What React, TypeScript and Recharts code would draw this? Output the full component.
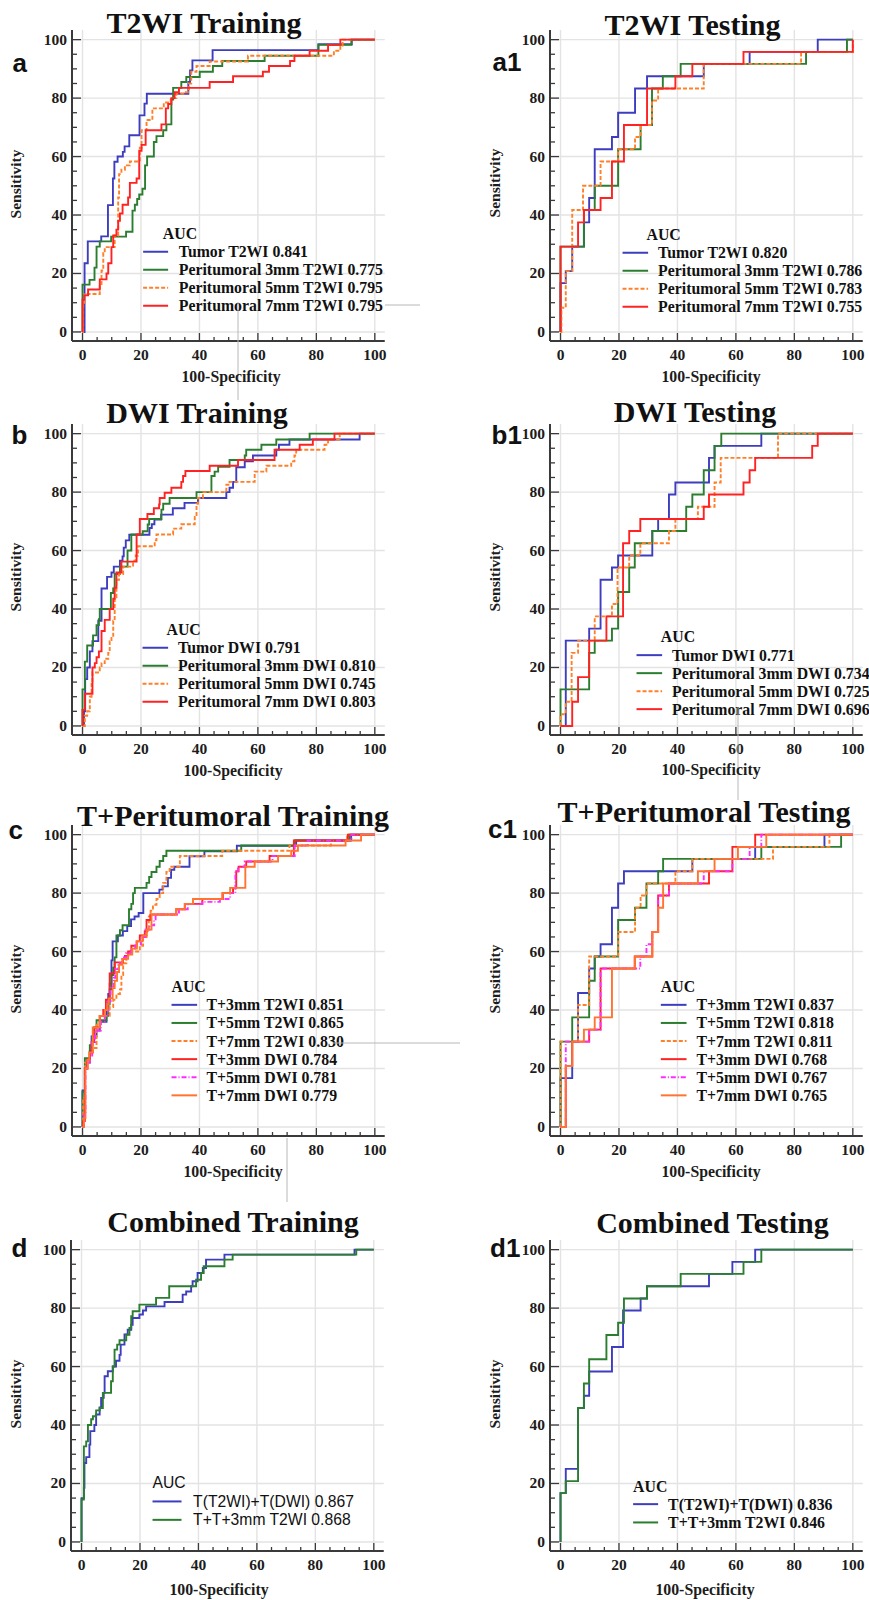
import React from 'react';
import { LineChart, Line, XAxis, YAxis, ReferenceLine, Legend } from 'recharts';

// ROC vertices: [100-Specificity, Sensitivity] where the step happens
const aTumor = [[0,0],[0.7,23.5],[1.8,31],[6.4,32.7],[8.7,43.4],[10.4,52.5],[10.9,58.2],[12,60],[13.8,61.6],[14.4,63.5],[16,67.3],[19.5,74.1],[21.2,78.1],[22,81.5],[36.2,85.5],[36.8,89.5],[37.6,92.9],[44.5,96.4],[80.7,98.4],[92.1,100],[100,100]];
const aPeri3 = [[0,0],[0,16.2],[2.4,17.8],[4.1,22],[4.8,29.2],[5.9,31],[9.8,32.6],[14.9,34.3],[17.1,41.5],[17.9,43.5],[18.7,45.5],[19.4,47],[20.5,49],[21.4,57],[22.1,60],[24.4,65],[25.3,67],[27.6,69],[28.7,71],[30.4,79.5],[31,83.5],[33.8,85.5],[35.5,87.2],[40.1,89],[44.6,91],[47.8,92.7],[62.3,94.5],[80.7,98.2],[92,100],[100,100]];
const aPeri5 = [[0,0],[0.2,9],[0.6,13],[5.9,16],[6.5,21],[7.1,27],[7.6,29],[11,33],[12.2,46],[12.5,54],[13.3,55.5],[14.5,57],[16.2,58.3],[19.6,63],[20.2,69],[21.9,72.5],[23.9,76.5],[27.8,78.5],[30.2,80],[32.1,81.5],[35,82],[36.4,85],[37.2,89],[39,91],[43.5,92.5],[56.6,94.5],[86,96.2],[88.2,98],[89,100],[100,100]];
const aPeri7 = [[0,0],[0,11],[0.6,12.5],[1.9,14.5],[5.9,18],[8.2,20],[8.8,23.5],[9.9,29],[10.5,33],[11.6,35],[12.2,38],[12.8,40.5],[13.7,43.5],[15.6,46],[16.2,51],[18.5,52.5],[19.4,62],[20.2,64],[21.6,69],[27,71],[28.5,76.5],[29.3,78],[30.4,80],[31.5,82],[33,83.5],[43.5,85.5],[51.5,87.5],[61.7,89],[63.8,91],[71,92.7],[72.5,94.5],[77.7,96.2],[84,98.2],[88.2,100],[100,100]];

const a1Tumor = [[0,0],[0,16.7],[1.8,20.8],[4,29.2],[8,37.5],[9.8,45.8],[11.7,62.5],[17.6,66.7],[19.7,75],[25.5,83.3],[29.6,87.5],[49,91.7],[64.7,95.8],[88,100],[100,100]];
const a1Peri3 = [[0,0],[0,29.2],[8,41.7],[11.7,50],[19.7,62.5],[27.4,70.8],[31.3,83.3],[35,87.5],[41.1,91.7],[84,95.8],[98,100],[100,100]];
const a1Peri5 = [[0,0],[0.3,8.3],[1.8,20.8],[4,41.7],[7.7,50],[13.7,58.3],[19.7,62.5],[25.5,66.7],[27.4,70.8],[31.3,79.2],[33.4,83.3],[49,91.7],[82.3,95.8],[100,100]];
const a1Peri7 = [[0,0],[0,29.2],[6,37.5],[8,41.7],[13.7,45.8],[17.6,58.3],[21.7,70.8],[29.6,83.3],[39.3,87.5],[45.1,91.7],[62.6,95.8],[100,100]];

const bTumor = [[0,0],[0.5,5],[0.9,16],[1.6,20],[2.5,25.5],[3.4,29],[5.4,36],[6.5,47],[8.4,51],[9.9,52.5],[10.7,54.5],[12.8,56.5],[13.7,58],[14.1,61],[14.8,63.5],[16,65.4],[22.9,67.7],[23.7,69],[24.6,70.6],[26.9,72.3],[30.9,74.5],[34.9,76.3],[39.5,78],[49.2,80],[50.3,81.5],[51.5,83.5],[52.6,88.5],[55.5,90.5],[58.3,92.5],[66.3,94.5],[67.2,96.2],[70.8,98],[94.8,100],[100,100]];
const bPeri3 = [[0,0],[0,12.5],[0.8,22],[1.6,27.5],[3.6,31],[4.8,34.5],[5.6,36.5],[5.9,40],[9.7,45.5],[10.5,47],[11,52],[12.8,54.5],[15.4,60],[16.7,65.5],[20.6,66.6],[22.3,68.9],[22.8,70.8],[27,74],[27.6,76],[29.8,78],[39,80],[44.1,85.5],[45.2,87],[46.4,88.7],[50.3,91],[55.5,92.5],[56,94.5],[61.2,96.2],[66.3,98],[77.7,100],[100,100]];
const bPeri5 = [[0,0],[0.8,3.5],[1.6,5],[2.5,10],[3.1,15],[3.4,18.3],[5.9,20],[6.5,21.5],[7.6,23],[8.8,25],[9.3,29],[9.9,30.5],[10.5,36],[11,44],[11.6,50],[12.5,52],[13.9,54.5],[17.3,56.5],[18.2,58.3],[19,61.5],[24.7,63.5],[25.3,65.5],[31,67.5],[33.8,69],[38.4,71.5],[39,76],[39.5,78],[41.2,80],[49.2,82.5],[50.3,83.5],[58.9,87],[62.9,89],[71.4,90.5],[72.5,92.5],[73.1,94.5],[82.8,96.2],[84,98],[88,100],[100,100]];
const bPeri7 = [[0,0],[0,5.5],[0.8,11],[3.4,20],[4.2,21.5],[4.8,23.5],[5.6,25.5],[6.5,32.5],[7.6,36.3],[9.3,40],[10.5,43.5],[11,47.3],[11.6,52.5],[13.3,56.2],[18.5,65.5],[19.6,70.8],[22.2,72.5],[24.4,74.5],[26.2,75.8],[26.4,78],[28.1,79.8],[30.4,81.5],[33.8,83.5],[34.4,85.5],[35.2,87.2],[43.5,89],[53.2,91],[65.7,94.5],[74.3,96.2],[78.8,98],[86.2,100],[100,100]];

const b1Tumor = [[0,0],[1.8,0],[1.8,29.2],[9.8,33.3],[13.7,50],[17.6,54.2],[19.7,58.3],[31.4,66.7],[33.4,70.8],[37.1,79.2],[39.3,83.3],[50.8,91.7],[52.7,95.8],[68.7,100],[100,100]];
const b1Peri3 = [[0,0],[0,12.5],[9.8,25],[11.7,29.2],[17.6,33.3],[19.7,45.8],[23.5,54.2],[25.4,62.5],[31.4,66.7],[43,75],[45.1,79.2],[49,87.5],[52.7,95.8],[55,100],[100,100]];
const b1Peri5 = [[0,0],[0,4],[1.8,8.3],[3.8,25],[6,29.2],[11.7,37.5],[17.6,41.7],[19.5,54.2],[23.5,58.3],[27.3,62.5],[37.1,66.7],[39.3,70.8],[47,75],[52.7,83.3],[54.8,91.7],[74.4,100],[100,100]];
const b1Peri7 = [[0,0],[4,8.3],[6,16.7],[9.8,29.2],[15.7,37.5],[21.4,62.5],[23.5,66.7],[27.3,70.8],[49,75],[50.8,79.2],[62.6,83.3],[64.7,87.5],[66.6,91.7],[86.1,95.8],[88,100],[100,100]];

const cT3T2 = [[0,0],[0,12.5],[0.8,20],[1.6,22],[2.5,26],[3.1,31],[4.8,33],[5.9,36],[8.2,40],[8.8,45.5],[9.3,49],[9.9,57],[10.3,63.5],[12.1,65.5],[13.8,67],[15.3,68.7],[16.6,71],[17.8,72],[19.2,73.2],[20.8,80],[26.3,81.2],[27.4,82.3],[29.2,85.2],[30.3,88],[31.4,89],[36.6,92.6],[41.7,94.3],[52.8,96.2],[73.1,98],[91.9,100],[100,100]];
const cT5T2 = [[0,0],[0,12],[0.8,23.5],[2.5,28],[3.4,31],[4,34],[4.8,36.5],[8.2,38],[8.8,42],[9.3,47],[9.9,52],[10.5,54.5],[11,58],[11.6,65.5],[12.8,67.3],[13.7,69],[15.9,74.5],[16.7,76.3],[17.3,80],[17.9,81.8],[21.9,83.5],[22.8,85.5],[23.6,87.2],[25.3,89],[26.4,91],[27.6,92.7],[28.7,94.5],[54.3,96.3],[72.6,98],[91.3,100],[100,100]];
const cT7T2 = [[0,0],[0.2,10],[0.8,22],[2.5,25],[3.6,27],[4.8,35],[5.9,38],[9.3,41],[10.5,43.5],[11.6,45.5],[12.8,47],[13.3,52],[13.9,56],[15,58],[15.6,60],[19.6,62],[20.7,65],[21.9,67],[22.7,72],[23.3,74],[24.1,76],[25.3,78],[26.4,80],[27.6,83.5],[28.7,87.2],[29.8,89],[33.3,92.7],[47.8,94.5],[70.8,96.3],[85,98],[90.5,100],[100,100]];
const cT3Dwi = [[0,0],[0.2,2],[0.8,20],[1.6,23],[2.5,25.5],[3.1,29],[4,34],[5.9,38],[7.1,40],[8,43.5],[9.3,52.5],[11,56.3],[13.8,57.5],[14.5,58.5],[15.6,60],[16.7,62],[18.5,63.5],[19.6,65.5],[21.3,67],[21.9,70.8],[23.2,72.7],[32.1,74.5],[35,76.3],[41,78],[48,80],[51.5,81.8],[52.6,87.5],[53.4,89],[56,90.8],[64,92.7],[72.3,98],[90.8,100],[100,100]];
const cT5Dwi = [[0,0],[0.5,5],[1,20],[1.6,22],[2.5,24],[3.3,29],[4.3,33],[6.3,36],[7.6,38],[8.7,43],[9.6,48],[10.6,51],[11.2,54],[12.2,56],[13.5,58],[15,59.5],[16.5,61],[18,62.5],[20,65],[21.5,67.5],[23,69],[24.5,71],[25,72.7],[33,74.5],[36,76.3],[41,77],[47,78],[50.5,80],[52.3,87.5],[53.2,89],[55.5,90.8],[65,92.7],[72.6,96.3],[77,98],[92,100],[100,100]];
const cT7Dwi = [[0,0],[0.5,3],[1,20],[1.8,23],[2.3,25.5],[3.5,34],[5.9,38],[7.6,40],[8.5,42],[9,44],[10.3,47.5],[11,50],[11.8,53],[12.5,55.5],[13.6,57.5],[15.6,59],[17,61],[18.6,63.5],[20.5,65.5],[22,67.5],[23.6,72.7],[32,74.5],[35,76.3],[37.8,78],[47.8,80],[50.5,81.8],[55.7,89],[58.9,90.8],[66.9,92.7],[71.4,94.5],[73.7,96.3],[90,98],[95.3,100],[100,100]];

const c1T3T2 = [[0,0],[0,16.7],[4,29.2],[6,45.8],[9.8,54.2],[11.7,58.3],[13.7,62.5],[17.6,75],[19.7,83.3],[21.7,87.5],[45.1,91.7],[66.6,95.8],[90.3,100],[100,100]];
const c1T5T2 = [[0,0],[0,29.2],[4,37.5],[9.8,50],[11.7,58.3],[19.7,70.8],[25.5,75],[29.4,83.3],[33.4,87.5],[35.1,91.7],[68.7,95.8],[96,100],[100,100]];
const c1T7T2 = [[0,0],[0,29.2],[6,41.7],[9.8,58.3],[19.7,66.7],[25.5,75],[27.4,79.2],[29.4,83.3],[39.3,87.5],[45.1,91.7],[72.7,95.8],[92,100],[100,100]];
const c1T3Dwi = [[0,0],[1.8,20.8],[4,29.2],[9.8,33.3],[13.7,54.2],[25.4,58.3],[31.4,66.7],[33.4,79.2],[37.1,83.3],[50.8,87.5],[58.8,95.8],[66.6,100],[100,100]];
const c1T5Dwi = [[0,0],[1.8,29.2],[9.8,33.3],[13.7,54.2],[27.3,58.3],[29.4,62.5],[31.4,66.7],[33.4,79.2],[37.1,83.3],[49,87.5],[58.8,91.7],[64.7,95.8],[68.7,100],[100,100]];
const c1T7Dwi = [[0,0],[1.8,20.8],[4,29.2],[8,33.3],[11.7,37.5],[17.6,54.2],[25.4,58.3],[31.4,66.7],[33.4,75],[35.1,83.3],[47,87.5],[52.7,91.7],[60.7,95.8],[70.4,100],[100,100]];

const dTT = [[0,0],[0,15],[0.8,18.5],[1,27],[1.6,29],[2.7,33.3],[3,37.9],[4.4,40],[5,43.6],[6.2,46],[6.7,49.3],[7.6,51],[7.9,56.7],[9,58.4],[10.7,60],[11.8,62],[13,64],[13.4,67.5],[14.7,71],[15.8,72.6],[17,74.3],[17.5,76.6],[19.8,77.8],[21,79.2],[22.1,80.6],[28.4,82.1],[34.6,84.6],[35.8,85.7],[37.5,87.5],[38,89.2],[39.7,92],[41.5,93.7],[42.6,96.6],[48.9,98.3],[93.4,100],[100,100]];
const dTT3 = [[0,0],[0,14.5],[0.8,32.7],[1.6,34.4],[2.2,40],[3.3,42],[3.9,43],[5,45],[6.2,45.8],[7.3,51],[10.1,55],[10.7,60],[11.3,65.8],[12.2,67.5],[13,69],[15.3,70.9],[16.4,73.2],[17,77.2],[17.5,78.9],[19.8,81.2],[25.5,83.5],[30,87.5],[39.2,89.7],[40.9,92],[41.8,94.3],[48.9,96.6],[51.7,98.3],[94,100],[100,100]];

const d1TT = [[0,0],[0,16.7],[1.8,25],[6,45.8],[8,50],[9.8,58.3],[17.6,66.7],[21.4,79.2],[27.4,83.3],[29.6,87.5],[50.8,91.7],[58.8,95.8],[66.6,100],[100,100]];
const d1TT3 = [[0,0],[0,16.7],[1.8,20.8],[6,45.8],[8,54.2],[9.8,62.5],[15.7,70.8],[19.7,75],[21.7,83.3],[29.6,87.5],[41.1,91.7],[62.6,95.8],[68.7,100],[100,100]];

const TICKS = [0, 5, 10, 15, 20, 25, 30, 35, 40, 45, 50, 55, 60, 65, 70, 75, 80, 85, 90, 95, 100];
const GRID = [0, 20, 40, 60, 80, 100];

const BLUE = '#3d3dbf';
const GREEN = '#2b7d2f';
const ORANGE = '#ff8028';
const RED = '#ff2222';
const MAGENTA = '#ff2cff';
const ORANGE2 = '#ff7430';
const AXIS = '#3a3a3a';
const GRIDC = '#e3e3e3';
const SERIF = '"Liberation Serif", "Times New Roman", serif';
const SANS = '"Liberation Sans", Arial, sans-serif';

const X_DOMAIN = [-3.6, 103.4];
const Y_DOMAIN = [-3.1, 103.3];
const K = 2.923; // px per unit
const YW = 75;
const MT = 4;
const MR = 6;
const XH = 30;

const DASH = '4 2';
const DASHDOT = '5 2 1 2';

const toPts = (arr: number[][]) => arr.map(([x, y]) => ({ x, y }));

const panels = [
  {
    id: 'a', title: 'T2WI Training', x0: 82.7, y100: 39.7,
    titleX: 204, titleY: 33, letterX: 12.5, letterY: 72,
    xtX: 231, xtY: 381.5, ytX: 21, ytY: 184,
    lg: { aucX: 163, aucY: 239.3, l1: 143.3, l2: 168.3, tx: 179, row: 257.3, step: 18, sans: false },
    series: [
      { name: 'Tumor T2WI 0.841', color: BLUE, pts: aTumor },
      { name: 'Peritumoral 3mm T2WI 0.775', color: GREEN, pts: aPeri3 },
      { name: 'Peritumoral 5mm T2WI 0.795', color: ORANGE, dash: DASH, pts: aPeri5 },
      { name: 'Peritumoral 7mm T2WI 0.795', color: RED, pts: aPeri7 },
    ],
  },
  {
    id: 'a1', title: 'T2WI Testing', x0: 560.7, y100: 39.7,
    titleX: 692.5, titleY: 35, letterX: 492.5, letterY: 71,
    xtX: 711, xtY: 381.5, ytX: 500, ytY: 183,
    lg: { aucX: 646.7, aucY: 240, l1: 622.7, l2: 648.3, tx: 658.3, row: 258.3, step: 18, sans: false },
    series: [
      { name: 'Tumor T2WI 0.820', color: BLUE, pts: a1Tumor },
      { name: 'Peritumoral 3mm T2WI 0.786', color: GREEN, pts: a1Peri3 },
      { name: 'Peritumoral 5mm T2WI 0.783', color: ORANGE, dash: DASH, pts: a1Peri5 },
      { name: 'Peritumoral 7mm T2WI 0.755', color: RED, pts: a1Peri7 },
    ],
  },
  {
    id: 'b', title: 'DWI Training', x0: 82.7, y100: 433.7,
    titleX: 197, titleY: 423.3, letterX: 11.5, letterY: 444,
    xtX: 233, xtY: 775.5, ytX: 21, ytY: 577,
    lg: { aucX: 166.7, aucY: 635, l1: 142.7, l2: 168.3, tx: 178.3, row: 653.3, step: 18, sans: false },
    series: [
      { name: 'Tumor DWI 0.791', color: BLUE, pts: bTumor },
      { name: 'Peritumoral 3mm DWI 0.810', color: GREEN, pts: bPeri3 },
      { name: 'Peritumoral 5mm DWI 0.745', color: ORANGE, dash: DASH, pts: bPeri5 },
      { name: 'Peritumoral 7mm DWI 0.803', color: RED, pts: bPeri7 },
    ],
  },
  {
    id: 'b1', title: 'DWI Testing', x0: 560.7, y100: 433.7,
    titleX: 695, titleY: 421.7, letterX: 491.5, letterY: 443.5,
    xtX: 711, xtY: 775, ytX: 500, ytY: 577,
    lg: { aucX: 661, aucY: 642.3, l1: 636.7, l2: 662.3, tx: 672.3, row: 660.7, step: 18, sans: false },
    series: [
      { name: 'Tumor DWI 0.771', color: BLUE, pts: b1Tumor },
      { name: 'Peritumoral 3mm DWI 0.734', color: GREEN, pts: b1Peri3 },
      { name: 'Peritumoral 5mm DWI 0.725', color: ORANGE, dash: DASH, pts: b1Peri5 },
      { name: 'Peritumoral 7mm DWI 0.696', color: RED, pts: b1Peri7 },
    ],
  },
  {
    id: 'c', title: 'T+Peritumoral Training', x0: 82.7, y100: 835,
    titleX: 233, titleY: 825.7, letterX: 8.5, letterY: 839.3,
    xtX: 233, xtY: 1177.3, ytX: 21, ytY: 979,
    lg: { aucX: 171.7, aucY: 992.3, l1: 171.7, l2: 197.3, tx: 206.7, row: 1010.7, step: 18.1, sans: false },
    series: [
      { name: 'T+3mm T2WI 0.851', color: BLUE, pts: cT3T2 },
      { name: 'T+5mm T2WI 0.865', color: GREEN, pts: cT5T2 },
      { name: 'T+7mm T2WI 0.830', color: ORANGE, dash: DASH, pts: cT7T2 },
      { name: 'T+3mm DWI 0.784', color: RED, pts: cT3Dwi },
      { name: 'T+5mm DWI 0.781', color: MAGENTA, dash: DASHDOT, pts: cT5Dwi },
      { name: 'T+7mm DWI 0.779', color: ORANGE2, pts: cT7Dwi },
    ],
  },
  {
    id: 'c1', title: 'T+Peritumoral Testing', x0: 560.7, y100: 835,
    titleX: 704, titleY: 821.7, letterX: 488, letterY: 838.3,
    xtX: 711, xtY: 1177, ytX: 500, ytY: 979,
    lg: { aucX: 661, aucY: 992.3, l1: 661, l2: 686.7, tx: 696.7, row: 1010.7, step: 18.1, sans: false },
    series: [
      { name: 'T+3mm T2WI 0.837', color: BLUE, pts: c1T3T2 },
      { name: 'T+5mm T2WI 0.818', color: GREEN, pts: c1T5T2 },
      { name: 'T+7mm T2WI 0.811', color: ORANGE, dash: DASH, pts: c1T7T2 },
      { name: 'T+3mm DWI 0.768', color: RED, pts: c1T3Dwi },
      { name: 'T+5mm DWI 0.767', color: MAGENTA, dash: DASHDOT, pts: c1T5Dwi },
      { name: 'T+7mm DWI 0.765', color: ORANGE2, pts: c1T7Dwi },
    ],
  },
  {
    id: 'd', title: 'Combined Training', x0: 81.7, y100: 1250,
    titleX: 233, titleY: 1232.3, letterX: 11.5, letterY: 1257.3,
    xtX: 219, xtY: 1595, ytX: 21, ytY: 1394,
    lg: { aucX: 152.7, aucY: 1488.3, l1: 152.7, l2: 181.7, tx: 193.3, row: 1507.3, step: 18.4, sans: true },
    series: [
      { name: 'T(T2WI)+T(DWI) 0.867', color: BLUE, pts: dTT },
      { name: 'T+T+3mm T2WI 0.868', color: GREEN, pts: dTT3 },
    ],
  },
  {
    id: 'd1', title: 'Combined Testing', x0: 560.7, y100: 1250,
    titleX: 712.5, titleY: 1232.7, letterX: 490, letterY: 1257.3,
    xtX: 705, xtY: 1595, ytX: 500, ytY: 1394,
    lg: { aucX: 633.3, aucY: 1492.7, l1: 633.3, l2: 658.3, tx: 668.3, row: 1510, step: 18.3, sans: false },
    series: [
      { name: 'T(T2WI)+T(DWI) 0.836', color: BLUE, pts: d1TT },
      { name: 'T+T+3mm T2WI 0.846', color: GREEN, pts: d1TT3 },
    ],
  },
];

const tickText: React.CSSProperties = { fontFamily: SERIF, fontWeight: 700, fontSize: 15.5, fill: '#1c1c1c' };

const XTick = (props: any) => {
  const { x, y, payload } = props;
  const major = payload.value % 20 === 0;
  return (
    <g>
      <line x1={x} x2={x} y1={y} y2={y - (major ? 8 : 4)} stroke={AXIS} strokeWidth={1.3} />
      {major && (
        <text x={x} y={y + 19} textAnchor="middle" style={tickText}>
          {payload.value}
        </text>
      )}
    </g>
  );
};

const YTick = (props: any) => {
  const { x, y, payload } = props;
  const major = payload.value % 20 === 0;
  return (
    <g>
      <line x1={x} x2={x + (major ? 9 : 5)} y1={y} y2={y} stroke={AXIS} strokeWidth={1.3} />
      {major && (
        <text x={x - 5} y={y + 5} textAnchor="end" style={tickText}>
          {payload.value}
        </text>
      )}
    </g>
  );
};

const RocPanel = ({ p }: { p: any }) => {
  const plotLeft = p.x0 - 3.6 * K;
  const plotTop = p.y100 - 3.3 * K;
  const plotW = (X_DOMAIN[1] - X_DOMAIN[0]) * K;
  const plotH = (Y_DOMAIN[1] - Y_DOMAIN[0]) * K;
  const left = plotLeft - YW;
  const top = plotTop - MT;
  const width = YW + plotW + MR;
  const height = MT + plotH + XH;
  const lg = p.lg;
  const font = lg.sans
    ? { fontFamily: SANS, fontWeight: 400, fontSize: 15.7, fill: '#111' }
    : { fontFamily: SERIF, fontWeight: 700, fontSize: 15.8, fill: '#111' };

  const renderLegend = () => (
    <svg width={width} height={height} style={{ overflow: 'visible', display: 'block' }}>
      <text x={lg.aucX - left} y={lg.aucY - top} style={font}>AUC</text>
      {p.series.map((s: any, i: number) => {
        const by = lg.row + i * lg.step - top;
        return (
          <g key={s.name}>
            <line x1={lg.l1 - left} x2={lg.l2 - left} y1={by - 5.5} y2={by - 5.5}
              stroke={s.color} strokeWidth={2} strokeDasharray={s.dash} />
            <text x={lg.tx - left} y={by} style={font}>{s.name}</text>
          </g>
        );
      })}
    </svg>
  );

  return (
    <div style={{ position: 'absolute', left, top, width, height }}>
      <LineChart width={width} height={height} margin={{ top: MT, right: MR, bottom: 0, left: 0 }}>
        <XAxis type="number" dataKey="x" domain={X_DOMAIN} ticks={TICKS} interval={0}
          allowDataOverflow tickSize={0} tickMargin={0} tickLine={false} tick={<XTick />}
          axisLine={{ stroke: AXIS, strokeWidth: 2 }} height={XH} />
        <YAxis type="number" dataKey="y" domain={Y_DOMAIN} ticks={TICKS} interval={0}
          allowDataOverflow tickSize={0} tickMargin={0} tickLine={false} tick={<YTick />}
          axisLine={{ stroke: AXIS, strokeWidth: 2 }} width={YW} />
        {GRID.map((v) => (
          <ReferenceLine key={'gx' + v} x={v} stroke={GRIDC} strokeWidth={1.4} />
        ))}
        {GRID.map((v) => (
          <ReferenceLine key={'gy' + v} y={v} stroke={GRIDC} strokeWidth={1.4} />
        ))}
        {p.series.map((s: any) => (
          <Line key={s.name} data={toPts(s.pts)} dataKey="y" type="stepAfter" name={s.name}
            stroke={s.color} strokeWidth={1.9} strokeDasharray={s.dash}
            dot={false} activeDot={false} isAnimationActive={false} />
        ))}
        <Legend layout="vertical" align="center" verticalAlign="middle" content={renderLegend}
          wrapperStyle={{ left: 0, top: 0, width, height }} />
      </LineChart>
    </div>
  );
};

export default function App() {
  return (
    <div style={{ position: 'absolute', left: 0, top: 0, width: 869, height: 1600, overflow: 'hidden', background: '#fff' }}>
      {panels.map((p) => (
        <RocPanel key={p.id} p={p} />
      ))}
      <svg width={869} height={1600} style={{ position: 'absolute', left: 0, top: 0, pointerEvents: 'none' }}>
        {/* stray guide lines visible in the figure */}
        <g stroke="#b8b8b8" strokeWidth={1}>
          <line x1={385} x2={420} y1={305} y2={305} />
          <line x1={238} x2={238} y1={302} y2={400} />
          <line x1={738} x2={738} y1={707} y2={800} />
          <line x1={333} x2={460} y1={1043} y2={1043} />
          <line x1={287} x2={287} y1={1138} y2={1202} />
        </g>
        {panels.map((p) => (
          <g key={p.id}>
            <text x={p.titleX} y={p.titleY} textAnchor="middle"
              style={{ fontFamily: SERIF, fontWeight: 700, fontSize: 30, fill: '#111' }}>{p.title}</text>
            <text x={p.letterX} y={p.letterY}
              style={{ fontFamily: SANS, fontWeight: 700, fontSize: 26, fill: '#111' }}>{p.id}</text>
            <text x={p.xtX} y={p.xtY} textAnchor="middle"
              style={{ fontFamily: SERIF, fontWeight: 700, fontSize: 15.8, fill: '#1c1c1c' }}>100-Specificity</text>
            <text x={p.ytX} y={p.ytY} textAnchor="middle" transform={`rotate(-90 ${p.ytX} ${p.ytY})`}
              style={{ fontFamily: SERIF, fontWeight: 700, fontSize: 15.5, fill: '#1c1c1c' }}>Sensitivity</text>
          </g>
        ))}
      </svg>
    </div>
  );
}
